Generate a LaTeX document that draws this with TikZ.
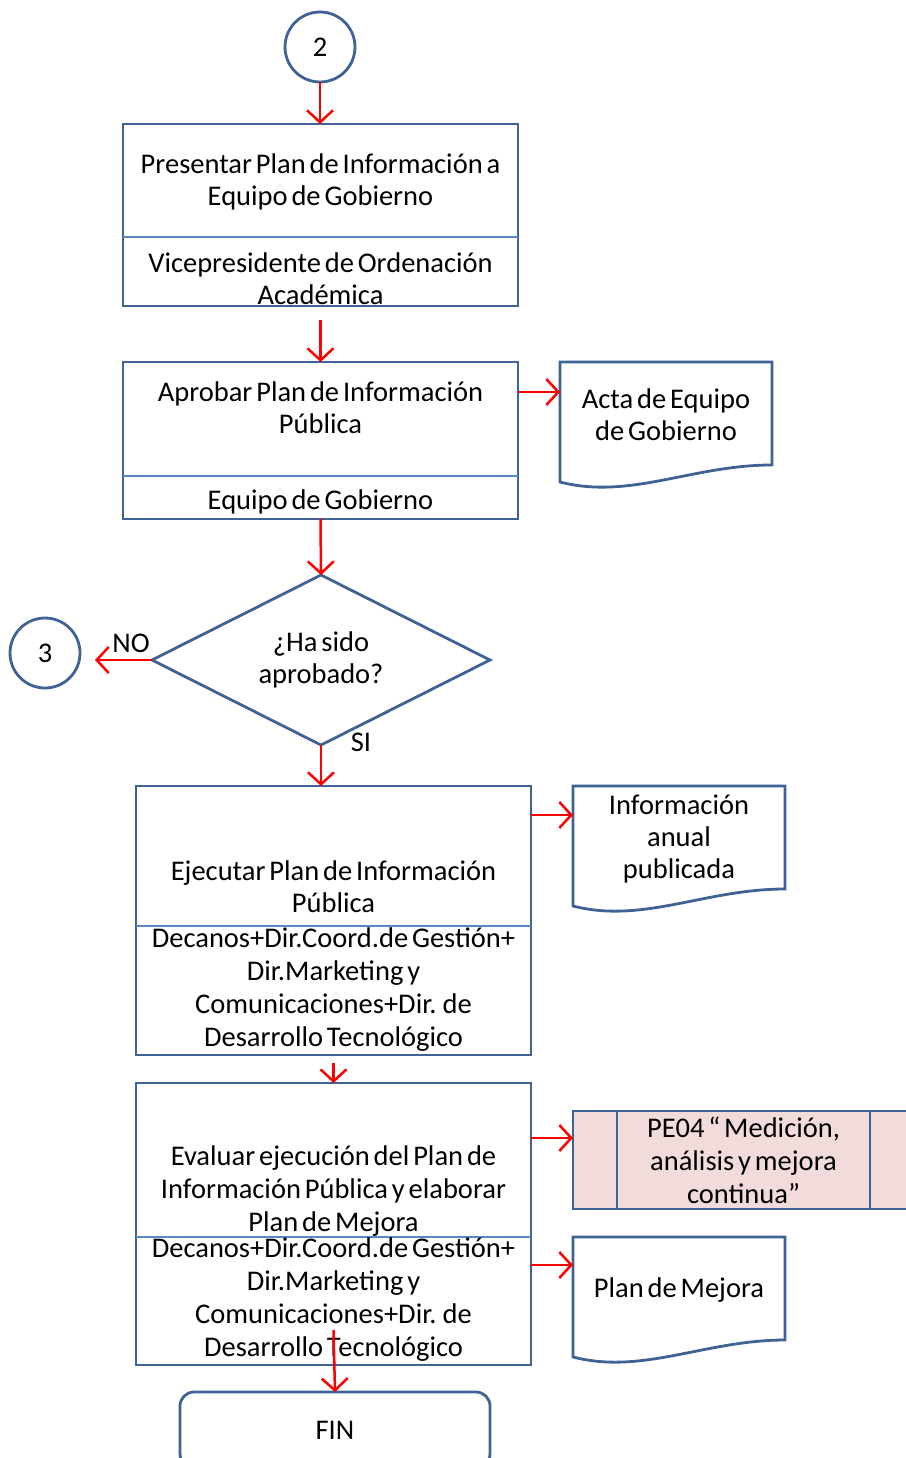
\documentclass[tikz,border=0pt]{standalone}
\usepackage{fontspec}
\setmainfont[WordSpace=0.6]{Carlito}
\usetikzlibrary{arrows.meta,shapes.geometric,positioning}
\definecolor{frameblue}{HTML}{3F6394}
\definecolor{lineblue}{HTML}{5B87C4}
\definecolor{pefill}{HTML}{F2DCDB}

\begin{document}
\begin{tikzpicture}[x=1pt, y=-1pt, >={Straight Barb[length=12pt,width=26pt]}]
\tikzstyle{every node} = [font=\fontsize{28.5}{32}\selectfont, align=center, inner sep=0pt, outer sep=0pt]
\tikzstyle{frame} = [draw=frameblue, line width=2.8pt]
\tikzstyle{box} = [frame, rectangle, minimum width=395pt]
\tikzstyle{connector} = [frame, circle, minimum size=70pt]
\tikzstyle{docbox} = [minimum width=212pt, minimum height=106pt]
\tikzstyle{divider} = [draw=lineblue, line width=2.4pt]
\tikzstyle{flow} = [->, red, line width=2.5pt]
\useasboundingbox (0,0) rectangle (905,1458);

% conectores
\node[connector] (c2) at (320,47) {2};
\node[connector] (c3) at (45,653) {3};

% actividades
\node[box, minimum height=182pt] (b1) at (320.5,215) {};
\draw[divider] ([yshift=-113pt]b1.north west) -- ([yshift=-113pt]b1.north east);
\node (t1) at (320.5,182) {Presentar Plan de Información a\\Equipo de Gobierno};
\node (r1) at (320.5,279) {Vicepresidente de Ordenación\\Académica};

\node[box, minimum height=157pt] (b2) at (320.5,440.5) {};
\draw[divider] ([yshift=-114pt]b2.north west) -- ([yshift=-114pt]b2.north east);
\node (t2) at (320.5,408) {Aprobar Plan de Información\\Pública};
\node (r2) at (320.5,502) {Equipo de Gobierno};

\node[frame, diamond, aspect=2, minimum width=338pt, minimum height=170pt] (q) at (321,660) {¿Ha sido\\aprobado?};
\node (no) at (131,643) {NO};
\node (si) at (361,742) {SI};
\coordinate (noend) at (95,660);

\node[box, minimum height=269pt] (b3) at (333.5,920.5) {};
\draw[divider] ([yshift=-140pt]b3.north west) -- ([yshift=-140pt]b3.north east);
\node (t3) at (333.5,887) {Ejecutar Plan de Información\\Pública};
\node[font=\fontsize{28.5}{33}\selectfont] (r3) at (333.5,989.5) {Decanos+Dir.Coord.de Gestión+\\Dir.Marketing y\\Comunicaciones+Dir. de\\Desarrollo Tecnológico};

\node[box, minimum height=282pt] (b4) at (333.5,1224) {};
\draw[divider] ([yshift=-154pt]b4.north west) -- ([yshift=-154pt]b4.north east);
\node[font=\fontsize{28.5}{33}\selectfont] (t4) at (333.5,1191) {Evaluar ejecución del Plan de\\Información Pública y elaborar\\Plan de Mejora};
\node[font=\fontsize{28.5}{33}\selectfont] (r4) at (333.5,1299.5) {Decanos+Dir.Coord.de Gestión+\\Dir.Marketing y\\Comunicaciones+Dir. de\\Desarrollo Tecnológico};

\node[frame, rounded corners=14pt, minimum width=310pt, minimum height=76pt] (fin) at (335,1430) {FIN};

% documentos
\node[docbox] (acta) at (666,415) {Acta de Equipo\\de Gobierno};
\node[docbox] (anual) at (679,839) {Información\\anual\\publicada};
\node[docbox] (mejora) at (679,1290) {Plan de Mejora};
\foreach \d in {acta,anual,mejora}
	\draw[frame] (\d.north west) -- (\d.north east) -- ([yshift=3pt]\d.south east)
		.. controls ([xshift=-80pt,yshift=3pt]\d.south east) and ([xshift=70pt,yshift=-32pt]\d.south west) .. ([yshift=-14pt]\d.south west) -- cycle;

% subproceso
\node[frame, fill=pefill, minimum width=341pt, minimum height=98pt, font=\fontsize{28.5}{33}\selectfont] (pe) at (743.5,1160) {PE04 “ Medición,\\análisis y mejora\\continua”};
\draw[frame] ([xshift=44pt]pe.north west) -- ([xshift=44pt]pe.south west)
	([xshift=-44pt]pe.north east) -- ([xshift=-44pt]pe.south east);

% flujo
\draw[flow] (c2.south) -- (c2.south |- b1.north);
\draw[flow] ([yshift=-14pt]b1.south) -- (b2.north);
\draw[flow] ([yshift=-30pt]b2.north east) -- ([yshift=-30pt]acta.north west);
\draw[flow] (b2.south) -- (q.north);
\draw[flow] (q.west) -- (noend);
\draw[flow] (q.south) -- (q.south |- b3.north);
\draw[flow] ([yshift=-29pt]b3.north east) -- ([yshift=-29pt]anual.north west);
\draw[flow] ([yshift=-8pt]b3.south) -- (b4.north);
\draw[flow] ([yshift=-55pt]b4.north east) -- ([yshift=-27pt]pe.north west);
\draw[flow] ([yshift=-182pt]b4.north east) -- ([yshift=-28pt]mejora.north west);
\draw[flow] ([yshift=35pt]b4.south) -- (fin.north);
\end{tikzpicture}
\end{document}
